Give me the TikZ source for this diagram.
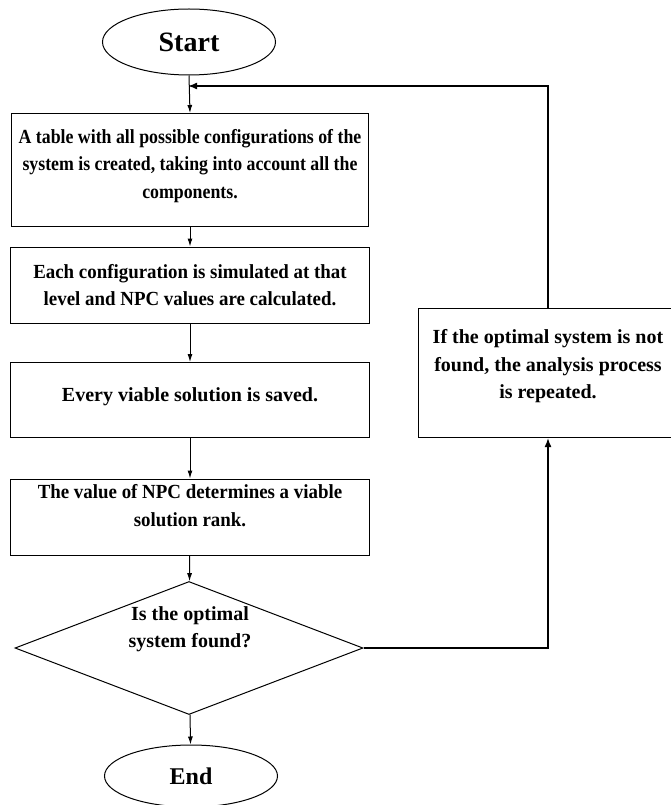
\documentclass[tikz,border=0pt]{standalone}
\usepackage{fontspec}
\setmainfont{Liberation Serif}
\newfontfamily\tightfont[FakeStretch=0.89]{Liberation Serif}
\newfontfamily\narrowfont[FakeStretch=0.945]{Liberation Serif}
\usetikzlibrary{shapes.geometric,arrows.meta}

\tikzset{
  every node/.style={font=\bfseries\fontsize{20}{27.5}\selectfont, align=center},
  stepbox/.style={rectangle, draw=black, line width=1pt, inner sep=0pt},
  term/.style={ellipse, draw=black, line width=1pt, inner sep=0pt, minimum width=173pt},
  decide/.style={diamond, draw=black, line width=1pt, inner sep=0pt, minimum width=348pt, minimum height=133pt},
  flow/.style={line width=1pt, -{Latex[length=8pt,width=5pt]}},
  loop/.style={line width=1.6pt, -{Latex[length=9pt,width=7pt]}}
}

\begin{document}
\begin{tikzpicture}[x=1pt,y=1pt]
  \useasboundingbox (0,0) rectangle (670,-805);

  % Inicio y fin
  \node[term, minimum height=66pt, font=\bfseries\fontsize{28}{30}\selectfont] (start) at (189,-42) {Start};
  \node[term, minimum height=62pt, font=\bfseries\fontsize{24}{28}\selectfont] (end) at (191,-776) {End};

  % Pasos del proceso
  \node[stepbox, minimum width=357pt, minimum height=113pt, font=\tightfont\bfseries\fontsize{20}{27.5}\selectfont] (table) at (190,-170) {A table with all possible configurations of the\\system is created, taking into account all the\\components.\\[-15pt]};
  \node[stepbox, minimum width=359pt, minimum height=76pt, font=\narrowfont\bfseries\fontsize{20}{27.5}\selectfont] (simulate) at (190,-285) {Each configuration is simulated at that\\level and NPC values are calculated.};
  \node[stepbox, minimum width=359pt, minimum height=75pt] (save) at (190,-400) {Every viable solution is saved.\\[-17pt]};
  \node[stepbox, minimum width=359pt, minimum height=76pt, font=\narrowfont\bfseries\fontsize{20}{27.5}\selectfont] (rank) at (190,-517) {The value of NPC determines a viable\\solution rank.\\[-4pt]};

  % Decision
  \node[decide] (found) at (189,-648) {};
  \node (foundtext) at (190,-629) {Is the optimal\\system found?};

  % Caja de repeticion
  \node[stepbox, minimum width=260pt, minimum height=129pt] (repeat) at (548,-373) {If the optimal system is not\\found, the analysis process\\is repeated.\\[-10pt]};

  \coordinate (join) at (188,-86);
  \coordinate (corner) at (548,-648);

  % Flechas principales
  \draw[flow] (start.south) -- (table.north);
  \foreach \from/\to in {table/simulate, simulate/save, save/rank, rank/found, found/end}
    \draw[flow] (\from) -- (\to);

  % Lazo de retorno
  \draw[loop] (found.east) -- (corner) -- (repeat.south);
  \draw[loop] (repeat.north) |- (join);
\end{tikzpicture}
\end{document}
